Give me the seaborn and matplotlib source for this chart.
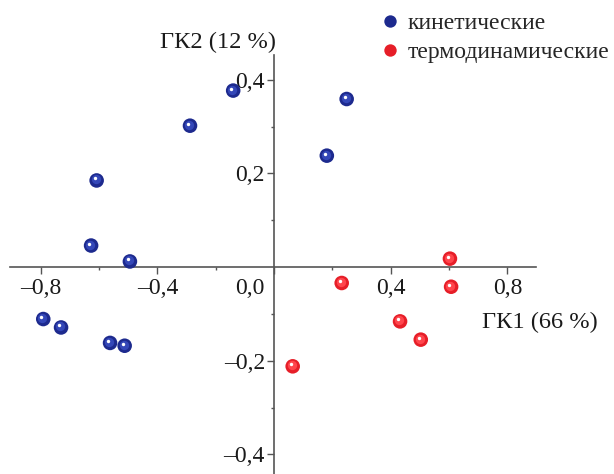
import numpy as np
import pandas as pd
import matplotlib
matplotlib.use("Agg")
import matplotlib.pyplot as plt
import matplotlib.transforms as mtransforms
from matplotlib.ticker import FixedLocator, FixedFormatter
import seaborn as sns

# ---- data (PCA scores) ----
kin_pc1 = [-0.608, -0.627, -0.494, -0.791, -0.730, -0.562, -0.512, -0.140, -0.288, 0.249, 0.181]
kin_pc2 = [0.185, 0.046, 0.012, -0.111, -0.129, -0.162, -0.168, 0.377, 0.302, 0.359, 0.238]
thermo_pc1 = [0.603, 0.232, 0.607, 0.432, 0.503, 0.064]
thermo_pc2 = [0.018, -0.034, -0.042, -0.116, -0.155, -0.212]
groups = ["кинетические", "термодинамические"]
x_major = [-0.8, -0.4, 0.0, 0.4, 0.8]
x_major_labels = ["–0,8", "–0,4", "0,0", "0,4", "0,8"]
x_minor = [-0.6, -0.2, 0.2, 0.6]
y_major = [-0.4, -0.2, 0.2, 0.4]
y_major_labels = ["–0,4", "–0,2", "0,2", "0,4"]
y_minor = [-0.3, -0.1, 0.1, 0.3]
xlabel = "ГК1 (66 %)"
ylabel = "ГК2 (12 %)"

df = pd.DataFrame({
    "pc1": kin_pc1 + thermo_pc1,
    "pc2": kin_pc2 + thermo_pc2,
    "group": [groups[0]] * len(kin_pc1) + [groups[1]] * len(thermo_pc1),
})

sns.set_style("white")
plt.rcParams["font.family"] = ["Liberation Serif", "DejaVu Serif"]

FS = 17
W, H = 614, 474
fig = plt.figure(figsize=(W / 100, H / 100), dpi=100)
ax = fig.add_axes([10 / W, 0, 526 / W, 419 / H])
ax.set_xlim(-0.905, 0.898)
ax.set_ylim(-0.442, 0.453)

palette = {groups[0]: "#1d2a8e", groups[1]: "#e61e28"}
sns.scatterplot(data=df, x="pc1", y="pc2", hue="group", palette=palette,
                s=110, linewidth=0, ax=ax, zorder=3, legend=True)

# glossy sphere look: lighter inner layers + highlight, from the same data
light = {groups[0]: "#3447b8", groups[1]: "#ff454c"}
for g in groups:
    sub = df[df.group == g]
    tr1 = mtransforms.offset_copy(ax.transData, fig=fig, x=-1.0, y=1.0, units="dots")
    ax.scatter(sub.pc1, sub.pc2, s=45, color=light[g], linewidth=0, zorder=4, transform=tr1)
    tr2 = mtransforms.offset_copy(ax.transData, fig=fig, x=-2.0, y=2.0, units="dots")
    ax.scatter(sub.pc1, sub.pc2, s=6, color="white", linewidth=0, zorder=5, transform=tr2)

# spines through origin
axis_col = "#555555"
for side in ["top", "right"]:
    ax.spines[side].set_visible(False)
ax.spines["left"].set_position(("data", 0))
ax.spines["bottom"].set_position(("data", 0))
for side in ["left", "bottom"]:
    ax.spines[side].set_color(axis_col)
    ax.spines[side].set_linewidth(1.2)

ax.xaxis.set_major_locator(FixedLocator(x_major))
ax.xaxis.set_major_formatter(FixedFormatter(x_major_labels))
ax.xaxis.set_minor_locator(FixedLocator(x_minor))
ax.yaxis.set_major_locator(FixedLocator(y_major))
ax.yaxis.set_major_formatter(FixedFormatter(y_major_labels))
ax.yaxis.set_minor_locator(FixedLocator(y_minor))
ax.tick_params(axis="both", which="major", direction="out", length=5, width=1,
               color=axis_col, labelsize=FS, labelcolor="#1a1a1a")
ax.tick_params(axis="both", which="minor", direction="out", length=2.5, width=1,
               color=axis_col)
ax.tick_params(axis="x", which="major", pad=3)
ax.tick_params(axis="y", which="major", pad=1.5)
ax.tick_params(axis="both", which="both", bottom=True, left=True)

fig.canvas.draw()
for lab in ax.get_xticklabels():
    if lab.get_text() == "0,0":
        lab.set_horizontalalignment("right")
        lab.set_transform(lab.get_transform() + mtransforms.ScaledTranslation(-10 / 100, 0, fig.dpi_scale_trans))

ax.set_xlabel(xlabel, fontsize=17.6, color="#1a1a1a", ha="right", va="center")
ax.xaxis.set_label_coords((598 - 10) / 526, (474 - 322) / 419)
ax.set_ylabel(ylabel, fontsize=17.6, color="#1a1a1a", rotation=0, ha="right", va="center")
ax.yaxis.set_label_coords((276 - 10) / 526, (474 - 42) / 419)

sns.move_legend(ax, loc="upper left", bbox_to_anchor=(366 / W, 1 - 1 / H),
                bbox_transform=fig.transFigure, frameon=False, title=None,
                fontsize=FS, handletextpad=0.25, labelspacing=0.3,
                borderpad=0, handlelength=1.0, markerscale=0.85)

fig.savefig("out.png", dpi=100)
